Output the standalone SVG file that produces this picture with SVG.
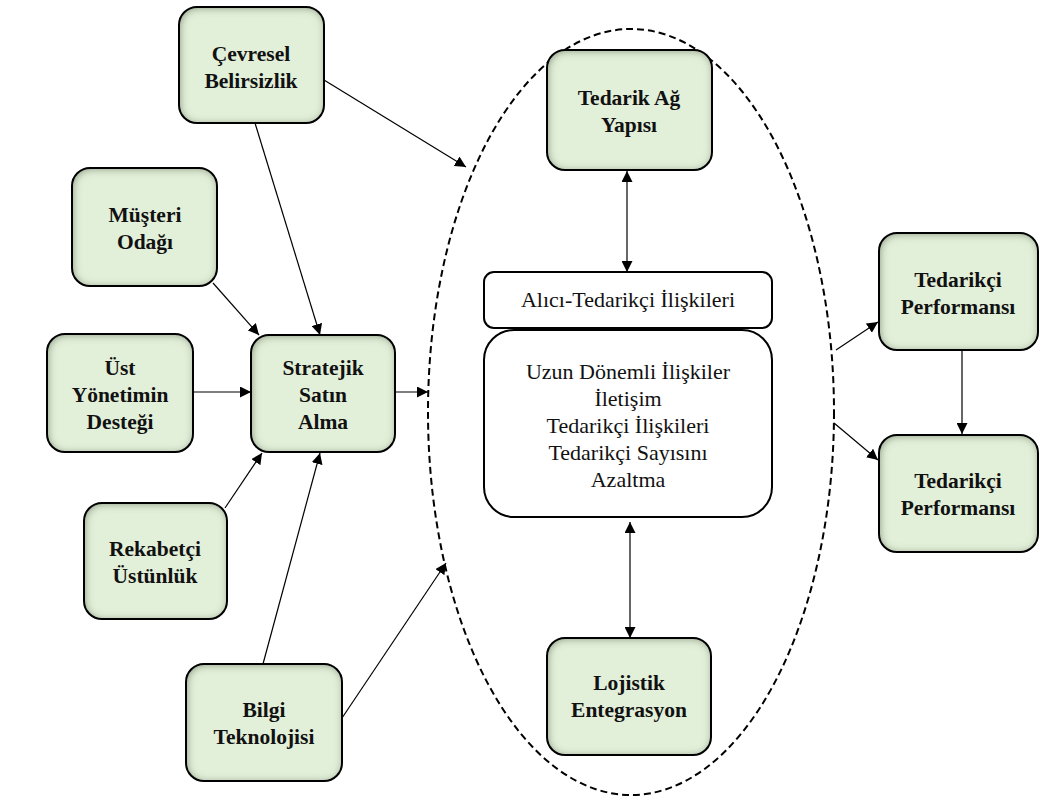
<svg xmlns="http://www.w3.org/2000/svg" width="1040" height="800" viewBox="0 0 1040 800">
  <defs>
    <filter id="inset" x="-10%" y="-10%" width="120%" height="120%">
      <feFlood flood-color="#6f8062" result="c"/>
      <feComposite in="c" in2="SourceAlpha" operator="out" result="inv"/>
      <feGaussianBlur in="inv" stdDeviation="4" result="b"/>
      <feOffset in="b" dx="1" dy="1" result="bo"/>
      <feComposite in="bo" in2="SourceAlpha" operator="in" result="sh"/>
      <feMerge><feMergeNode in="SourceGraphic"/><feMergeNode in="sh"/></feMerge>
    </filter>
    <marker id="arr" viewBox="0 0 10 10" refX="10" refY="5" markerWidth="11" markerHeight="11" markerUnits="userSpaceOnUse" orient="auto-start-reverse">
      <path d="M0,0 L10,5 L0,10 z" fill="#000"/>
    </marker>
  </defs>
  <style>
    .g { fill: #e2efd9; }
    .edge { fill: none; stroke: #000; stroke-width: 2; }
    .wb { fill: #fff; stroke: #000; stroke-width: 2; }
    .c { fill: none; stroke: #000; stroke-width: 1.2; }
  </style>
  <rect width="1040" height="800" fill="#fff"/>

  <!-- dashed boundary of the supply relations area -->
  <ellipse cx="631" cy="412" rx="203" ry="383" fill="none" stroke="#000" stroke-width="2" stroke-dasharray="7,4"/>

  <g id="cevresel">
    <rect x="179" y="7" width="145" height="116" rx="18" class="g" filter="url(#inset)"/>
    <rect x="179" y="7" width="145" height="116" rx="18" class="edge"/>
    <text font-family="Liberation Serif" font-weight="bold" font-size="21.5" text-anchor="middle" fill="#111" x="251" y="61">Çevresel</text>
    <text font-family="Liberation Serif" font-weight="bold" font-size="21.5" text-anchor="middle" fill="#111" x="251" y="88">Belirsizlik</text>
  </g>
  <g id="musteri">
    <rect x="72" y="168" width="145" height="118" rx="18" class="g" filter="url(#inset)"/>
    <rect x="72" y="168" width="145" height="118" rx="18" class="edge"/>
    <text font-family="Liberation Serif" font-weight="bold" font-size="21.5" text-anchor="middle" fill="#111" x="145" y="222">Müşteri</text>
    <text font-family="Liberation Serif" font-weight="bold" font-size="21.5" text-anchor="middle" fill="#111" x="145" y="249">Odağı</text>
  </g>
  <g id="ust">
    <rect x="47" y="334" width="146" height="118" rx="18" class="g" filter="url(#inset)"/>
    <rect x="47" y="334" width="146" height="118" rx="18" class="edge"/>
    <text font-family="Liberation Serif" font-weight="bold" font-size="21.5" text-anchor="middle" fill="#111" x="120" y="375">Üst</text>
    <text font-family="Liberation Serif" font-weight="bold" font-size="21.5" text-anchor="middle" fill="#111" x="120" y="402">Yönetimin</text>
    <text font-family="Liberation Serif" font-weight="bold" font-size="21.5" text-anchor="middle" fill="#111" x="120" y="429">Desteği</text>
  </g>
  <g id="stratejik">
    <rect x="251" y="335" width="144" height="117" rx="18" class="g" filter="url(#inset)"/>
    <rect x="251" y="335" width="144" height="117" rx="18" class="edge"/>
    <text font-family="Liberation Serif" font-weight="bold" font-size="21.5" text-anchor="middle" fill="#111" x="323" y="375">Stratejik</text>
    <text font-family="Liberation Serif" font-weight="bold" font-size="21.5" text-anchor="middle" fill="#111" x="323" y="402">Satın</text>
    <text font-family="Liberation Serif" font-weight="bold" font-size="21.5" text-anchor="middle" fill="#111" x="323" y="429">Alma</text>
  </g>
  <g id="rekabetci">
    <rect x="84" y="503" width="143" height="116" rx="18" class="g" filter="url(#inset)"/>
    <rect x="84" y="503" width="143" height="116" rx="18" class="edge"/>
    <text font-family="Liberation Serif" font-weight="bold" font-size="21.5" text-anchor="middle" fill="#111" x="155" y="556">Rekabetçi</text>
    <text font-family="Liberation Serif" font-weight="bold" font-size="21.5" text-anchor="middle" fill="#111" x="155" y="583">Üstünlük</text>
  </g>
  <g id="bilgi">
    <rect x="186" y="664" width="156" height="117" rx="18" class="g" filter="url(#inset)"/>
    <rect x="186" y="664" width="156" height="117" rx="18" class="edge"/>
    <text font-family="Liberation Serif" font-weight="bold" font-size="21.5" text-anchor="middle" fill="#111" x="264" y="717">Bilgi</text>
    <text font-family="Liberation Serif" font-weight="bold" font-size="21.5" text-anchor="middle" fill="#111" x="264" y="744">Teknolojisi</text>
  </g>
  <g id="tedarik-ag">
    <rect x="547" y="50" width="165" height="120" rx="18" class="g" filter="url(#inset)"/>
    <rect x="547" y="50" width="165" height="120" rx="18" class="edge"/>
    <text font-family="Liberation Serif" font-weight="bold" font-size="21.5" text-anchor="middle" fill="#111" x="629" y="105">Tedarik Ağ</text>
    <text font-family="Liberation Serif" font-weight="bold" font-size="21.5" text-anchor="middle" fill="#111" x="629" y="132">Yapısı</text>
  </g>
  <g id="alici">
    <rect x="484" y="272" width="288" height="56" rx="10" class="wb"/>
    <text font-family="Liberation Serif" font-size="22" text-anchor="middle" fill="#111" x="628" y="307">Alıcı-Tedarikçi İlişkileri</text>
  </g>
  <g id="iliskiler">
    <rect x="484" y="330" width="288" height="187" rx="30" class="wb"/>
    <text font-family="Liberation Serif" font-size="22" text-anchor="middle" fill="#111" x="628" y="379">Uzun Dönemli İlişkiler</text>
    <text font-family="Liberation Serif" font-size="22" text-anchor="middle" fill="#111" x="628" y="406">İletişim</text>
    <text font-family="Liberation Serif" font-size="22" text-anchor="middle" fill="#111" x="628" y="433">Tedarikçi İlişkileri</text>
    <text font-family="Liberation Serif" font-size="22" text-anchor="middle" fill="#111" x="628" y="460">Tedarikçi Sayısını</text>
    <text font-family="Liberation Serif" font-size="22" text-anchor="middle" fill="#111" x="628" y="487">Azaltma</text>
  </g>
  <g id="lojistik">
    <rect x="547" y="638" width="164" height="117" rx="18" class="g" filter="url(#inset)"/>
    <rect x="547" y="638" width="164" height="117" rx="18" class="edge"/>
    <text font-family="Liberation Serif" font-weight="bold" font-size="21.5" text-anchor="middle" fill="#111" x="629" y="690">Lojistik</text>
    <text font-family="Liberation Serif" font-weight="bold" font-size="21.5" text-anchor="middle" fill="#111" x="629" y="717">Entegrasyon</text>
  </g>
  <g id="performans1">
    <rect x="879" y="233" width="159" height="117" rx="18" class="g" filter="url(#inset)"/>
    <rect x="879" y="233" width="159" height="117" rx="18" class="edge"/>
    <text font-family="Liberation Serif" font-weight="bold" font-size="21.5" text-anchor="middle" fill="#111" x="958" y="287">Tedarikçi</text>
    <text font-family="Liberation Serif" font-weight="bold" font-size="21.5" text-anchor="middle" fill="#111" x="958" y="314">Performansı</text>
  </g>
  <g id="performans2">
    <rect x="879" y="435" width="159" height="117" rx="18" class="g" filter="url(#inset)"/>
    <rect x="879" y="435" width="159" height="117" rx="18" class="edge"/>
    <text font-family="Liberation Serif" font-weight="bold" font-size="21.5" text-anchor="middle" fill="#111" x="958" y="488">Tedarikçi</text>
    <text font-family="Liberation Serif" font-weight="bold" font-size="21.5" text-anchor="middle" fill="#111" x="958" y="515">Performansı</text>
  </g>

  <g id="connectors">
    <line class="c" x1="324" y1="80" x2="466" y2="167" marker-end="url(#arr)"/>
    <line class="c" x1="255" y1="123" x2="320" y2="335" marker-end="url(#arr)"/>
    <line class="c" x1="213" y1="283" x2="259" y2="335" marker-end="url(#arr)"/>
    <line class="c" x1="193" y1="392" x2="251" y2="392" marker-end="url(#arr)"/>
    <line class="c" x1="395" y1="392" x2="428" y2="392" marker-end="url(#arr)"/>
    <line class="c" x1="225" y1="508" x2="262" y2="453" marker-end="url(#arr)"/>
    <line class="c" x1="263" y1="664" x2="320" y2="453" marker-end="url(#arr)"/>
    <line class="c" x1="342" y1="718" x2="446" y2="563" marker-end="url(#arr)"/>
    <line class="c" x1="627" y1="171" x2="627" y2="272" marker-start="url(#arr)" marker-end="url(#arr)"/>
    <line class="c" x1="630" y1="522" x2="630" y2="638" marker-start="url(#arr)" marker-end="url(#arr)"/>
    <line class="c" x1="836" y1="350" x2="878" y2="322" marker-end="url(#arr)"/>
    <line class="c" x1="834" y1="423" x2="878" y2="460" marker-end="url(#arr)"/>
    <line class="c" x1="962" y1="350" x2="962" y2="434" marker-end="url(#arr)"/>
  </g>
</svg>
